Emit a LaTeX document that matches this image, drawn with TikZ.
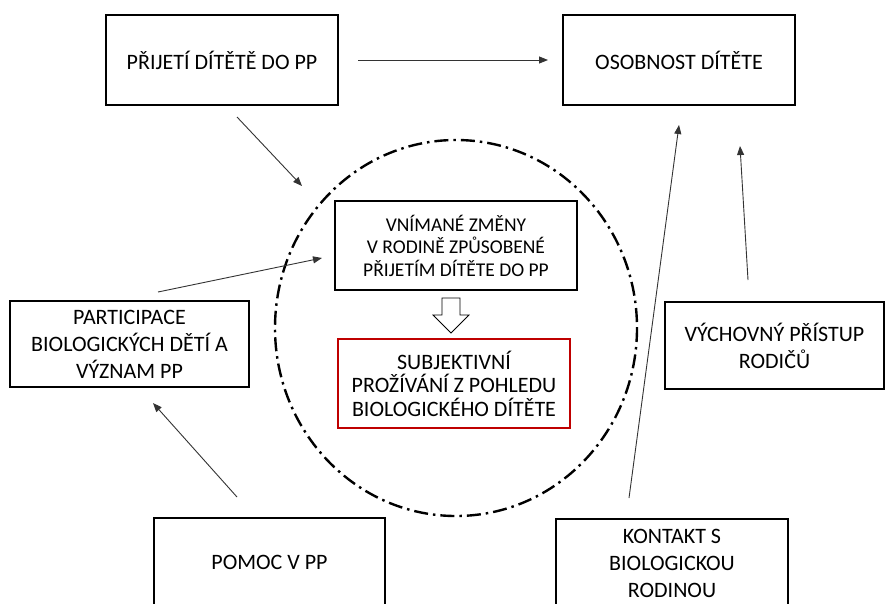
\documentclass[tikz,border=0pt]{standalone}
\usepackage{fontspec}
\setmainfont{Carlito}
\usetikzlibrary{arrows.meta}
\begin{document}
\begin{tikzpicture}[x=1pt,y=-1pt,
  box/.style={draw=black, line width=1.6pt, rectangle, align=center, inner sep=0pt,
    font=\fontsize{22}{27}\selectfont, text=black},
  arr/.style={line width=0.9pt, draw=black!80, -{Triangle[length=9pt,width=7pt]}},
  ring/.style={line width=2.4pt, dash pattern=on 14pt off 5pt on 2.5pt off 5pt}]
\useasboundingbox (0,0) rectangle (885,603);
\fill[white] (0,0) rectangle (885,603);

% circle
\draw[ring] (456,328) ellipse [x radius=181, y radius=188];

% boxes
\node[box, minimum width=232pt, minimum height=90pt] (prijeti) at (222,60) {PŘIJETÍ DÍTĚTĚ DO PP};
\node[box, minimum width=232pt, minimum height=90pt] (osob) at (679,60) {OSOBNOST DÍTĚTE};
\node[box, minimum width=242pt, minimum height=89pt, font=\fontsize{19.5}{22.5}\selectfont] (vnim) at (456,245.5) {VNÍMANÉ ZMĚNY\\V RODINĚ ZPŮSOBENÉ\\PŘIJETÍM DÍTĚTE DO PP};
\node[box, draw=red!75!black, line width=1.4pt, minimum width=232pt, minimum height=89pt, font=\fontsize{22}{23.5}\selectfont] (subj) at (454,383.5) {SUBJEKTIVNÍ\\PROŽÍVÁNÍ Z POHLEDU\\BIOLOGICKÉHO DÍTĚTE};
\node[box, minimum width=239pt, minimum height=86pt] (part) at (129.5,344) {PARTICIPACE\\BIOLOGICKÝCH DĚTÍ A\\VÝZNAM PP};
\node[box, minimum width=219pt, minimum height=87pt] (vych) at (774.5,345.5) {VÝCHOVNÝ PŘÍSTUP\\RODIČŮ};
\node[box, minimum width=231pt, minimum height=88pt] (pomoc) at (269.5,562) {POMOC V PP};
\node[box, minimum width=232pt, minimum height=88pt] (kont) at (672,563) {KONTAKT S\\BIOLOGICKOU\\RODINOU};

% hollow arrow
\draw[line width=0.8pt, fill=white] (442,298) -- (460,298) -- (460,315) -- (469,315) -- (451,333) -- (433,315) -- (442,315) -- cycle;

% connector end points
\coordinate (a1) at (358,60);   \coordinate (a2) at (548,60);
\coordinate (b1) at (237,117);  \coordinate (b2) at (302,186);
\coordinate (c1) at (158,292);  \coordinate (c2) at (322,258);
\coordinate (d1) at (237,497);  \coordinate (d2) at (153,403);
\coordinate (e1) at (629,498);  \coordinate (e2) at (679,125);
\coordinate (f1) at (748,280);  \coordinate (f2) at (740,146);

\draw[arr] (a1) -- (a2);
\draw[arr] (b1) -- (b2);
\draw[arr] (c1) -- (c2);
\draw[arr] (d1) -- (d2);
\draw[arr] (e1) -- (e2);
\draw[arr] (f1) -- (f2);
\end{tikzpicture}
\end{document}
